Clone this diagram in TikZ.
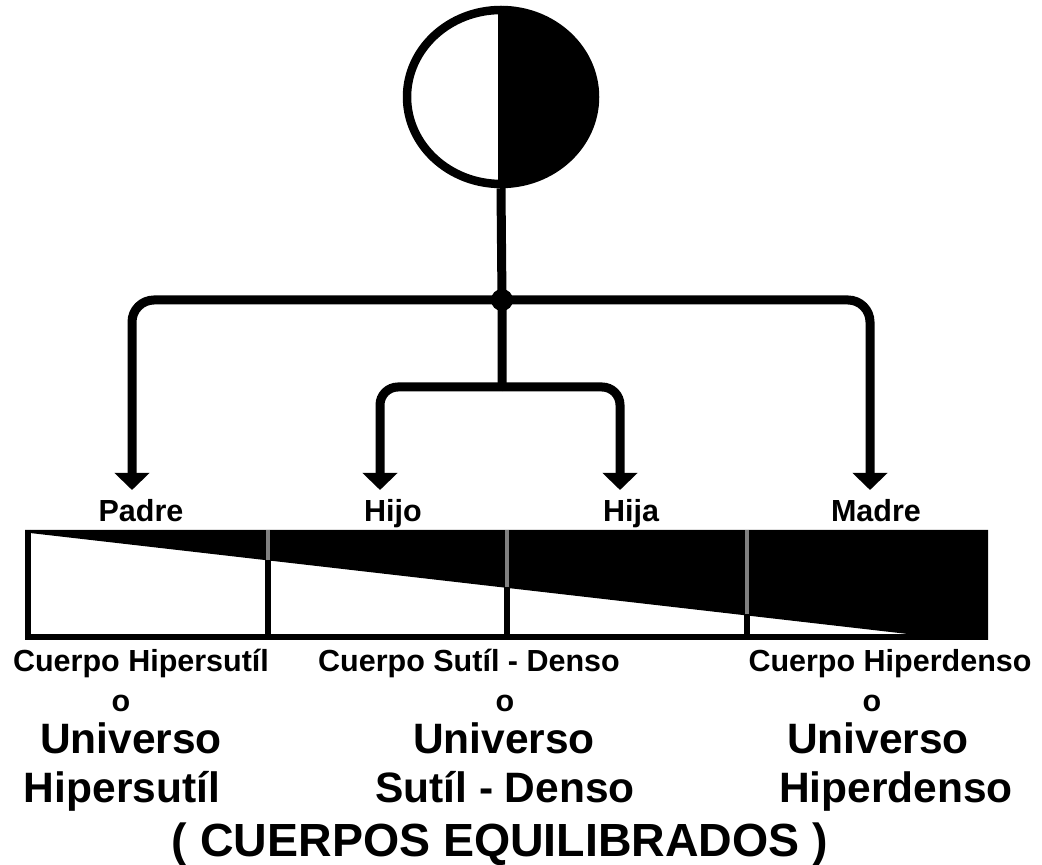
\documentclass[tikz,border=0pt]{standalone}
\usepackage{fontspec}
\setmainfont{Liberation Sans}
\usetikzlibrary{arrows.meta,shapes.geometric}
\begin{document}
\begin{tikzpicture}[x=1pt,y=1pt,
  conn/.style={line width=9pt, rounded corners=22pt, -{Triangle[width=34pt,length=17pt]}},
  stem/.style={line width=9pt},
  lbl/.style={font=\bfseries\fontsize{30.5}{34}\selectfont, anchor=base, inner sep=0},
  big/.style={font=\bfseries\fontsize{42.5}{46}\selectfont, anchor=base, inner sep=0},
  title/.style={font=\bfseries\fontsize{46.5}{50}\selectfont, anchor=base, inner sep=0},
  graydiv/.style={line width=4.5pt, draw=black!50},
  blackdiv/.style={line width=6pt, draw=black}]
\useasboundingbox (0,0) rectangle (1042,865);
% circle with right half filled
\begin{scope}
  \clip (501,600) rectangle (720,900);
  \fill[black] (501,768) ellipse [x radius=95, y radius=88];
\end{scope}
\node[ellipse, draw, line width=8.5pt, minimum width=188pt, minimum height=174pt, inner sep=0] (circ) at (501,768) {};
\draw[line width=6pt] (circ.north) -- (circ.south);
% junction
\node[circle, fill=black, inner sep=0, minimum size=22pt] (J) at (502,565) {};
\coordinate (K) at (502,478);
\coordinate (padreTip) at (132,375);
\coordinate (hijoTip) at (380,375);
\coordinate (hijaTip) at (620,375);
\coordinate (madreTip) at (870,375);
\draw[stem] (circ.south) -- (J.center) -- (K);
\draw[conn] (J.center) -| (padreTip);
\draw[conn] (J.center) -| (madreTip);
\draw[conn, rounded corners=18pt] (K) -| (hijoTip);
\draw[conn, rounded corners=18pt] (K) -| (hijaTip);
% labels
\node[lbl] (padre) at (141,343) {Padre};
\node[lbl] (hijo) at (393,343) {Hijo};
\node[lbl] (hija) at (631,343) {Hija};
\node[lbl] (madre) at (876,343) {Madre};
% bar
\node[minimum width=963pt, minimum height=110pt, inner sep=0, anchor=south west] (bar) at (25,225) {};
\fill[black] (25,335) -- (988,335) -- (988,225) -- (960,225) -- (30,332) -- (25,332) -- cycle;
\draw[line width=6pt] (28,335) -- (28,228) -- (962,228);
\draw[graydiv] (268,335) -- (268,305);
\draw[blackdiv] (268,305) -- (268,227);
\draw[graydiv] (507,335) -- (507,278);
\draw[blackdiv] (507,278) -- (507,227);
\draw[graydiv] (747,335) -- (747,251);
\draw[blackdiv] (747,251) -- (747,227);
% bottom texts
\node[lbl] (c1) at (141,193) {Cuerpo Hipersutíl};
\node[lbl] (o1) at (121,153) {o};
\node[big] (u1) at (131,111) {Universo};
\node[big] (h1) at (122,62) {Hipersutíl};
\node[lbl] (c2) at (469,193) {Cuerpo Sutíl - Denso};
\node[lbl] (o2) at (505,153) {o};
\node[big] (u2) at (504,111) {Universo};
\node[big] (h2) at (505,62) {Sutíl - Denso};
\node[lbl] (c3) at (890,193) {Cuerpo Hiperdenso};
\node[lbl] (o3) at (872,153) {o};
\node[big] (u3) at (878,111) {Universo};
\node[big] (h3) at (896,62) {Hiperdenso};
\node[title] (eq) at (500,8) {( CUERPOS EQUILIBRADOS )};
\end{tikzpicture}
\end{document}
